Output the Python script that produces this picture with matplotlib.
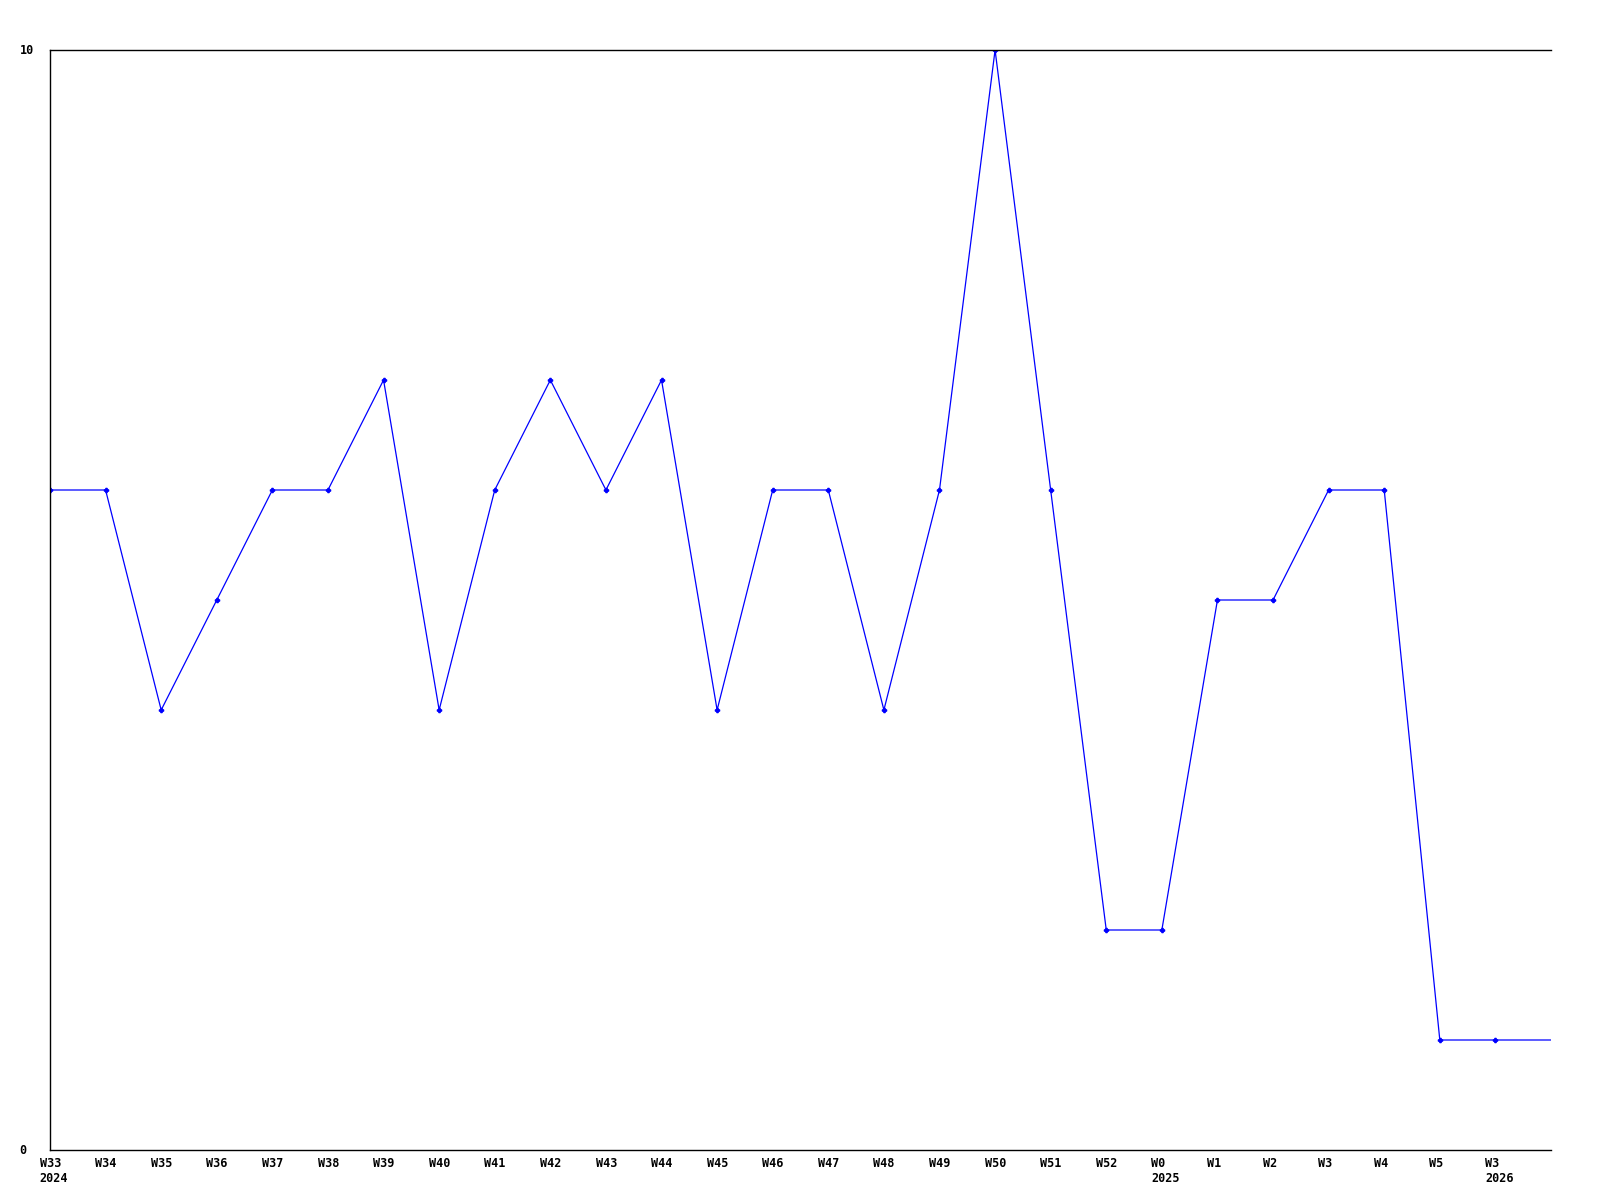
import matplotlib
matplotlib.use("Agg")
import matplotlib.pyplot as plt

# Weekly values
weeks = ["W33", "W34", "W35", "W36", "W37", "W38", "W39", "W40", "W41", "W42",
         "W43", "W44", "W45", "W46", "W47", "W48", "W49", "W50", "W51", "W52",
         "W0", "W1", "W2", "W3", "W4", "W5", "W3"]
years = {0: "2024", 20: "2025", 26: "2026"}
values = [6, 6, 4, 5, 6, 6, 7, 4, 6, 7,
          6, 7, 4, 6, 6, 4, 6, 10, 6, 2,
          2, 5, 5, 6, 6, 1, 1]

font = dict(family="DejaVu Sans Mono", fontweight="bold", fontsize=8.5)

fig = plt.figure(figsize=(16, 12), dpi=100)
ax = fig.add_axes([50 / 1600, 50 / 1200, 1501 / 1600, 1100 / 1200])

x = list(range(len(values)))
# last value carries on to the right edge of the plot
ax.plot(x + [len(values)], values + [values[-1]], color="#0000ff", linewidth=0.9)
ax.plot(x, values, linestyle="none", marker="P", markersize=3, color="#0000ff")

ax.set_xlim(0, len(values))
ax.set_ylim(0, 10)
ax.spines["right"].set_visible(False)
for side in ["left", "top", "bottom"]:
    ax.spines[side].set_linewidth(1.0)

ax.set_xticks([])
ax.set_yticks([])
for v in [0, 10]:
    ax.annotate(str(v), xy=(0, v), xycoords=("figure pixels", "data"),
                xytext=(14, 0), textcoords="offset points",
                ha="left", va="center", **font)

for i, w in enumerate(weeks):
    label = w + ("\n" + years[i] if i in years else "")
    ax.annotate(label, xy=(i, 0), xycoords=("data", "axes fraction"),
                xytext=(-7.5, -5), textcoords="offset points",
                ha="left", va="top", linespacing=1.25, **font)

fig.savefig("out.png", dpi=100)
